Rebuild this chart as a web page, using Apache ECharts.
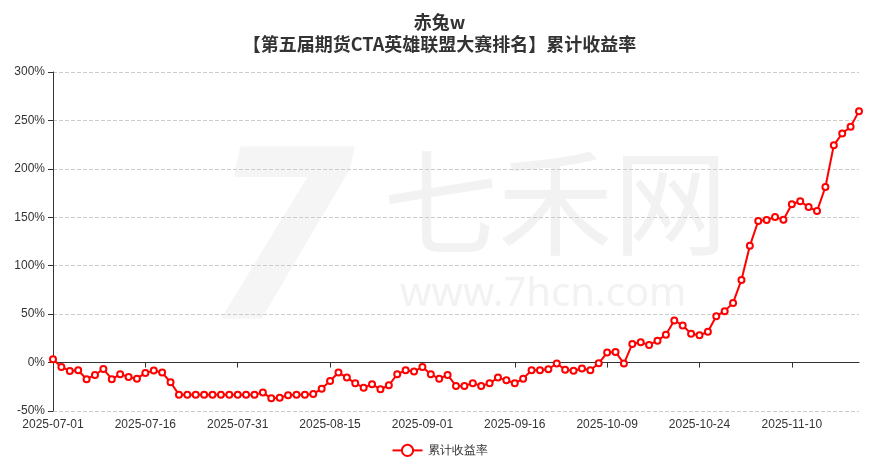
<!DOCTYPE html>
<html>
<head>
<meta charset="utf-8">
<script src="https://cdn.jsdelivr.net/npm/echarts@6/dist/echarts.min.js"></script>
<style>
  html, body { margin: 0; padding: 0; background: #fff; }
  #chart { width: 879px; height: 470px; }
</style>
</head>
<body>
<div id="chart"></div>
<script>
  // 交易日
  const dates = [
    '2025-07-01', '2025-07-02', '2025-07-03', '2025-07-04', '2025-07-07', '2025-07-08', '2025-07-09', '2025-07-10', '2025-07-11',
    '2025-07-14', '2025-07-15', '2025-07-16', '2025-07-17', '2025-07-18', '2025-07-21', '2025-07-22', '2025-07-23', '2025-07-24',
    '2025-07-25', '2025-07-28', '2025-07-29', '2025-07-30', '2025-07-31', '2025-08-01', '2025-08-04', '2025-08-05', '2025-08-06',
    '2025-08-07', '2025-08-08', '2025-08-11', '2025-08-12', '2025-08-13', '2025-08-14', '2025-08-15', '2025-08-18', '2025-08-19',
    '2025-08-20', '2025-08-21', '2025-08-22', '2025-08-25', '2025-08-26', '2025-08-27', '2025-08-28', '2025-08-29', '2025-09-01',
    '2025-09-02', '2025-09-03', '2025-09-04', '2025-09-05', '2025-09-08', '2025-09-09', '2025-09-10', '2025-09-11', '2025-09-12',
    '2025-09-15', '2025-09-16', '2025-09-17', '2025-09-18', '2025-09-19', '2025-09-22', '2025-09-23', '2025-09-24', '2025-09-25',
    '2025-09-26', '2025-09-29', '2025-09-30', '2025-10-09', '2025-10-10', '2025-10-13', '2025-10-14', '2025-10-15', '2025-10-16',
    '2025-10-17', '2025-10-20', '2025-10-21', '2025-10-22', '2025-10-23', '2025-10-24', '2025-10-27', '2025-10-28', '2025-10-29',
    '2025-10-30', '2025-10-31', '2025-11-03', '2025-11-04', '2025-11-05', '2025-11-06', '2025-11-07', '2025-11-10', '2025-11-11',
    '2025-11-12', '2025-11-13', '2025-11-14', '2025-11-17', '2025-11-18', '2025-11-19', '2025-11-20'
  ];

  // 累计收益率 (%)
  const returns = [
    3.4, -4.5, -8.6, -7.9, -17.2, -12.8, -6.6, -17.2, -12.1, -14.8,
    -16.6, -10.7, -8.3, -10.3, -20.3, -33.1, -33.1, -33.1, -33.1, -33.1,
    -33.1, -33.1, -33.1, -33.1, -33.1, -31.0, -36.9, -36.2, -33.8, -33.1,
    -33.1, -32.5, -26.9, -19.0, -10.3, -15.5, -21.4, -25.9, -22.4, -27.6,
    -23.4, -12.1, -7.9, -9.3, -4.5, -12.1, -16.6, -12.8, -24.1, -24.1,
    -21.4, -24.1, -21.4, -15.5, -18.3, -21.4, -16.6, -7.9, -7.9, -6.9,
    -1.0, -7.4, -8.5, -6.2, -7.9, -0.8, 10.3, 11.0, -1.0, 19.2,
    20.9, 18.2, 22.6, 28.8, 43.5, 38.4, 29.8, 28.1, 31.8, 47.9,
    53.1, 61.6, 85.3, 120.5, 146.2, 147.1, 150.2, 147.5, 163.5, 166.6,
    160.5, 156.4, 181.3, 224.3, 236.6, 243.5, 259.6
  ];

  const seriesName = '累计收益率';
  const titleText = '赤兔w\n【第五届期货CTA英雄联盟大赛排名】累计收益率';

  const chart = echarts.init(document.getElementById('chart'));

  const option = {
    animation: false,
    title: {
      text: titleText,
      left: 'center',
      top: 6,
      textStyle: {
        fontSize: 18,
        fontWeight: 'bold',
        color: '#333',
        lineHeight: 22,
        fontFamily: 'Noto Sans CJK SC',
      },
    },
    // 水印
    graphic: [
      {
        type: 'text',
        left: 212,
        top: 130,
        silent: true,
        style: {
          text: '7',
          font: 'italic bold 240px "Noto Sans"',
          fill: '#f5f5f5',
        },
        z: -10,
      },
      {
        type: 'text',
        left: 383,
        top: 145,
        silent: true,
        style: {
          text: '七禾网',
          font: '115px "Noto Sans CJK SC"',
          fill: '#f2f2f2',
        },
        z: -10,
      },
      {
        type: 'text',
        left: 400,
        top: 275,
        silent: true,
        style: {
          text: 'www.7hcn.com',
          font: '40px "Noto Sans"',
          fill: '#f2f2f2',
        },
        z: -10,
      },
    ],
    legend: {
      bottom: 8,
      left: 'center',
      data: [seriesName],
      itemWidth: 30,
      textStyle: { color: '#333', fontSize: 12 },
    },
    grid: {
      left: 53,
      right: 20,
      top: 72,
      bottom: 59,
      containLabel: false,
    },
    xAxis: [
      {
        type: 'category',
        data: dates,
        position: 'bottom',
        boundaryGap: false,
        axisLine: { show: false, onZero: false },
        axisTick: { show: false },
        axisLabel: { interval: 10, color: '#333', fontSize: 12, margin: 8 },
      },
      {
        type: 'category',
        data: dates,
        position: 'bottom',
        boundaryGap: false,
        axisLine: { show: true, onZero: true, lineStyle: { color: '#333' } },
        axisTick: { show: true, interval: 10, length: 5, lineStyle: { color: '#333' } },
        axisLabel: { show: false },
        splitLine: { show: false },
      },
    ],
    yAxis: {
      type: 'value',
      min: -50,
      max: 300,
      interval: 50,
      axisLine: { show: true, lineStyle: { color: '#333' } },
      axisTick: { show: true, length: 5, lineStyle: { color: '#333' } },
      axisLabel: { formatter: '{value}%', color: '#333', fontSize: 12 },
      splitLine: { lineStyle: { type: 'dashed', color: '#ccc' } },
    },
    series: [
      {
        name: seriesName,
        type: 'line',
        data: returns,
        xAxisIndex: 0,
        symbol: 'emptyCircle',
        symbolSize: 6,
        showAllSymbol: true,
        lineStyle: { width: 2, color: '#ff0000' },
        itemStyle: { color: '#ff0000', borderColor: '#ff3333', borderWidth: 0.8 },
      },
    ],
  };

  chart.setOption(option);
</script>
</body>
</html>
